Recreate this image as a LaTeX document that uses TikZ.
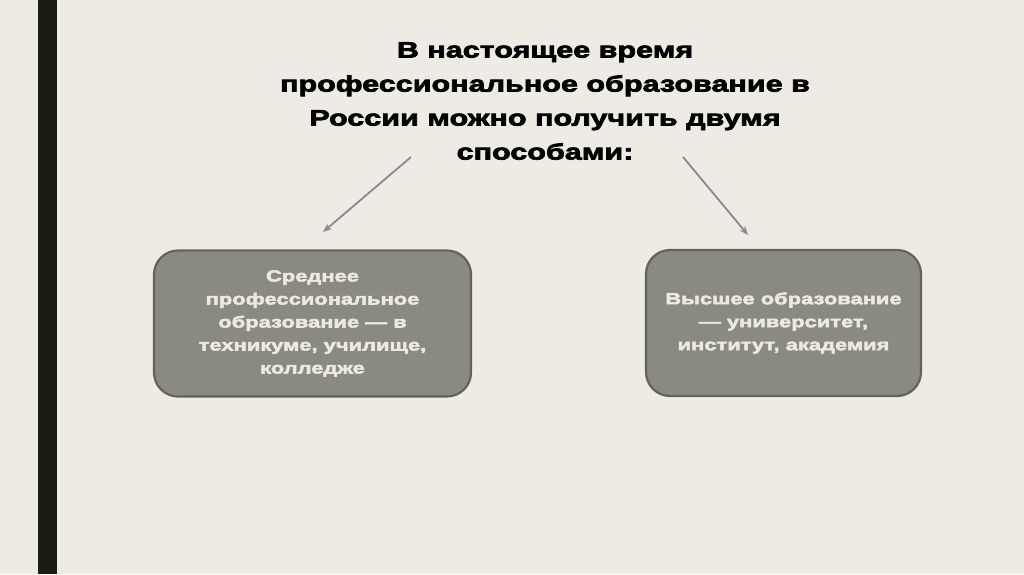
\documentclass[tikz,border=0pt]{standalone}
\usepackage{fontspec}
\setmainfont{Liberation Sans}
\newfontfamily\heavy[FakeStretch=1.37,FakeBold=3.2]{Liberation Sans}
\usetikzlibrary{arrows.meta}
\definecolor{bg}{HTML}{EEEBE4}
\definecolor{barc}{HTML}{1B1C12}
\definecolor{boxfill}{HTML}{8A8A82}
\definecolor{boxline}{HTML}{63635B}
\definecolor{arr}{HTML}{8A8A84}
\definecolor{boxtext}{HTML}{ECE9E2}
\tikzset{
  waybox/.style={draw=boxline, line width=2.2pt, fill=boxfill, rounded corners=24pt,
    text=boxtext, font=\heavy\bfseries\fontsize{16}{23}\selectfont, align=center},
  arrline/.style={draw=arr, line width=1.8pt, -{Stealth[length=9pt,width=7pt]}}
}
\begin{document}
\begin{tikzpicture}[x=1pt,y=-1pt]
\useasboundingbox (0,0) rectangle (1024,574);
\fill[bg] (0,0) rectangle (1024,574);
\fill[barc] (38,0) rectangle (57,574);
\node[font=\heavy\bfseries\fontsize{22.3}{34}\selectfont, align=center, text=black] (title) at (545,101)
  {В настоящее время\\профессиональное образование в\\России можно получить двумя\\способами:};
\node[waybox, minimum width=317pt, minimum height=146pt] (left) at (312.5,323.5)
  {Среднее\\профессиональное\\образование — в\\техникуме, училище,\\колледже};
\node[waybox, minimum width=275pt, minimum height=146pt] (right) at (783.5,323)
  {Высшее образование\\— университет,\\институт, академия};
\coordinate (ls) at (411,157);
\coordinate (le) at (323,232);
\coordinate (rs) at (683,157);
\coordinate (re) at (748,235);
\draw[arrline] (ls) -- (le);
\draw[arrline] (rs) -- (re);
\end{tikzpicture}
\end{document}
